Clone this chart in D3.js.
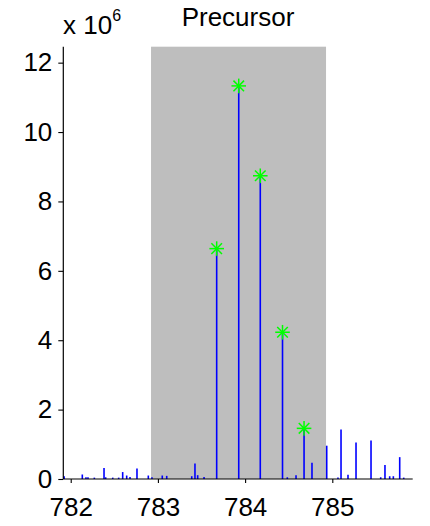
<!DOCTYPE html>
<html>
<head>
<meta charset="utf-8">
<script src="https://cdn.jsdelivr.net/npm/d3@7"></script>
<style>
  html, body { margin: 0; padding: 0; background: #fff; }
  svg { display: block; }
  text { font-family: "Liberation Sans", Arial, Helvetica, sans-serif; fill: #000; }
</style>
</head>
<body>
<svg id="chart" width="430" height="526"></svg>
<script>
// Spectrum peaks: m/z and intensity (x 10^6)
const peakMz = [
  781.925, 782.133, 782.175, 782.198, 782.271, 782.382, 782.401, 782.482, 782.550,
  782.596, 782.642, 782.680, 782.760, 782.890, 782.932, 783.050, 783.101, 783.388,
  783.425, 783.456, 783.529,
  783.674, 783.927, 784.174, 784.429, 784.676,
  784.484, 784.584, 784.767, 784.936, 785.065, 785.100, 785.180, 785.272, 785.444,
  785.555, 785.604, 785.658, 785.700, 785.773, 785.819
];
const peakIntensity = [
  0.08, 0.13, 0.05, 0.05, 0.04, 0.32, 0.05, 0.04, 0.04,
  0.20, 0.10, 0.06, 0.30, 0.10, 0.05, 0.10, 0.09, 0.08,
  0.45, 0.11, 0.06,
  6.64, 11.33, 8.74, 4.23, 1.46,
  0.05, 0.11, 0.47, 0.96, 0.04, 1.43, 0.12, 1.05, 1.11,
  0.05, 0.40, 0.08, 0.08, 0.63, 0.04
];

// Isotope envelope of the precursor (marked with stars)
const isotopeMz = [783.674, 783.927, 784.174, 784.429, 784.676];
const isotopeIntensity = [6.64, 11.33, 8.74, 4.23, 1.46];

// Isolation window shaded in grey
const windowMz = [782.921, 784.928];

const xTicks = [782, 783, 784, 785];
const yTicks = [0, 2, 4, 6, 8, 10, 12];
const titleText = "Precursor";

const svg = d3.select("#chart");
const plotLeft = 63.3, plotRight = 412.7, plotTop = 46.7, plotBottom = 479;

const x = d3.scaleLinear().domain([781.915, 785.922]).range([plotLeft, plotRight]);
const y = d3.scaleLinear().domain([0, 12.46]).range([plotBottom, plotTop]);

// Isolation window
svg.append("rect")
  .attr("x", x(windowMz[0]))
  .attr("y", plotTop)
  .attr("width", x(windowMz[1]) - x(windowMz[0]))
  .attr("height", plotBottom - plotTop)
  .attr("fill", "#bebebe");

// Stick spectrum
const peaks = peakMz.map((m, i) => ({ mz: m, v: peakIntensity[i] }));
svg.append("g")
  .selectAll("line")
  .data(peaks)
  .join("line")
  .attr("x1", d => x(d.mz)).attr("x2", d => x(d.mz))
  .attr("y1", y(0)).attr("y2", d => y(d.v))
  .attr("stroke", "#0000ff")
  .attr("stroke-width", 1.6);

// Star markers on the isotope peaks
const starR = 7.3, diagR = 5.3;
const stars = svg.append("g")
  .selectAll("g")
  .data(isotopeMz.map((m, i) => ({ mz: m, v: isotopeIntensity[i] })))
  .join("g")
  .attr("transform", d => `translate(${x(d.mz)},${y(d.v)})`)
  .attr("stroke", "#00ff00")
  .attr("stroke-width", 1.5);
stars.append("line").attr("x1", -starR).attr("x2", starR).attr("y1", 0).attr("y2", 0);
stars.append("line").attr("x1", 0).attr("x2", 0).attr("y1", -starR).attr("y2", starR);
stars.append("line").attr("x1", -diagR).attr("x2", diagR).attr("y1", -diagR).attr("y2", diagR);
stars.append("line").attr("x1", -diagR).attr("x2", diagR).attr("y1", diagR).attr("y2", -diagR);

// Axes
const xAxis = d3.axisBottom(x).tickValues(xTicks).tickSize(4).tickPadding(15).tickFormat(d3.format("d"));
const yAxis = d3.axisLeft(y).tickValues(yTicks).tickSize(5).tickPadding(6).tickFormat(d3.format("d"));

const gx = svg.append("g").attr("transform", `translate(0,${plotBottom})`).call(xAxis);
const gy = svg.append("g").attr("transform", `translate(${plotLeft},0)`).call(yAxis);

[gx, gy].forEach(g => {
  g.select(".domain").remove();
  g.selectAll(".tick line").attr("stroke", "#000").attr("stroke-width", 1.1);
  g.selectAll(".tick text").attr("font-size", 26).attr("font-family", '"Liberation Sans", Arial, sans-serif').attr("fill", "#000");
});

svg.append("line").attr("x1", plotLeft).attr("x2", plotRight).attr("y1", plotBottom).attr("y2", plotBottom)
  .attr("stroke", "#000").attr("stroke-width", 1.2);
svg.append("line").attr("x1", plotLeft).attr("x2", plotLeft).attr("y1", plotTop).attr("y2", plotBottom)
  .attr("stroke", "#000").attr("stroke-width", 1.2);

// Exponent label
const expo = svg.append("text").attr("x", 63).attr("y", 34).attr("font-size", 26);
expo.append("tspan").text("x 10");
expo.append("tspan").attr("font-size", 16).attr("dy", -13).text("6");

// Title
svg.append("text")
  .attr("x", (plotLeft + plotRight) / 2)
  .attr("y", 26)
  .attr("text-anchor", "middle")
  .attr("font-size", 26)
  .text(titleText);
</script>
</body>
</html>
